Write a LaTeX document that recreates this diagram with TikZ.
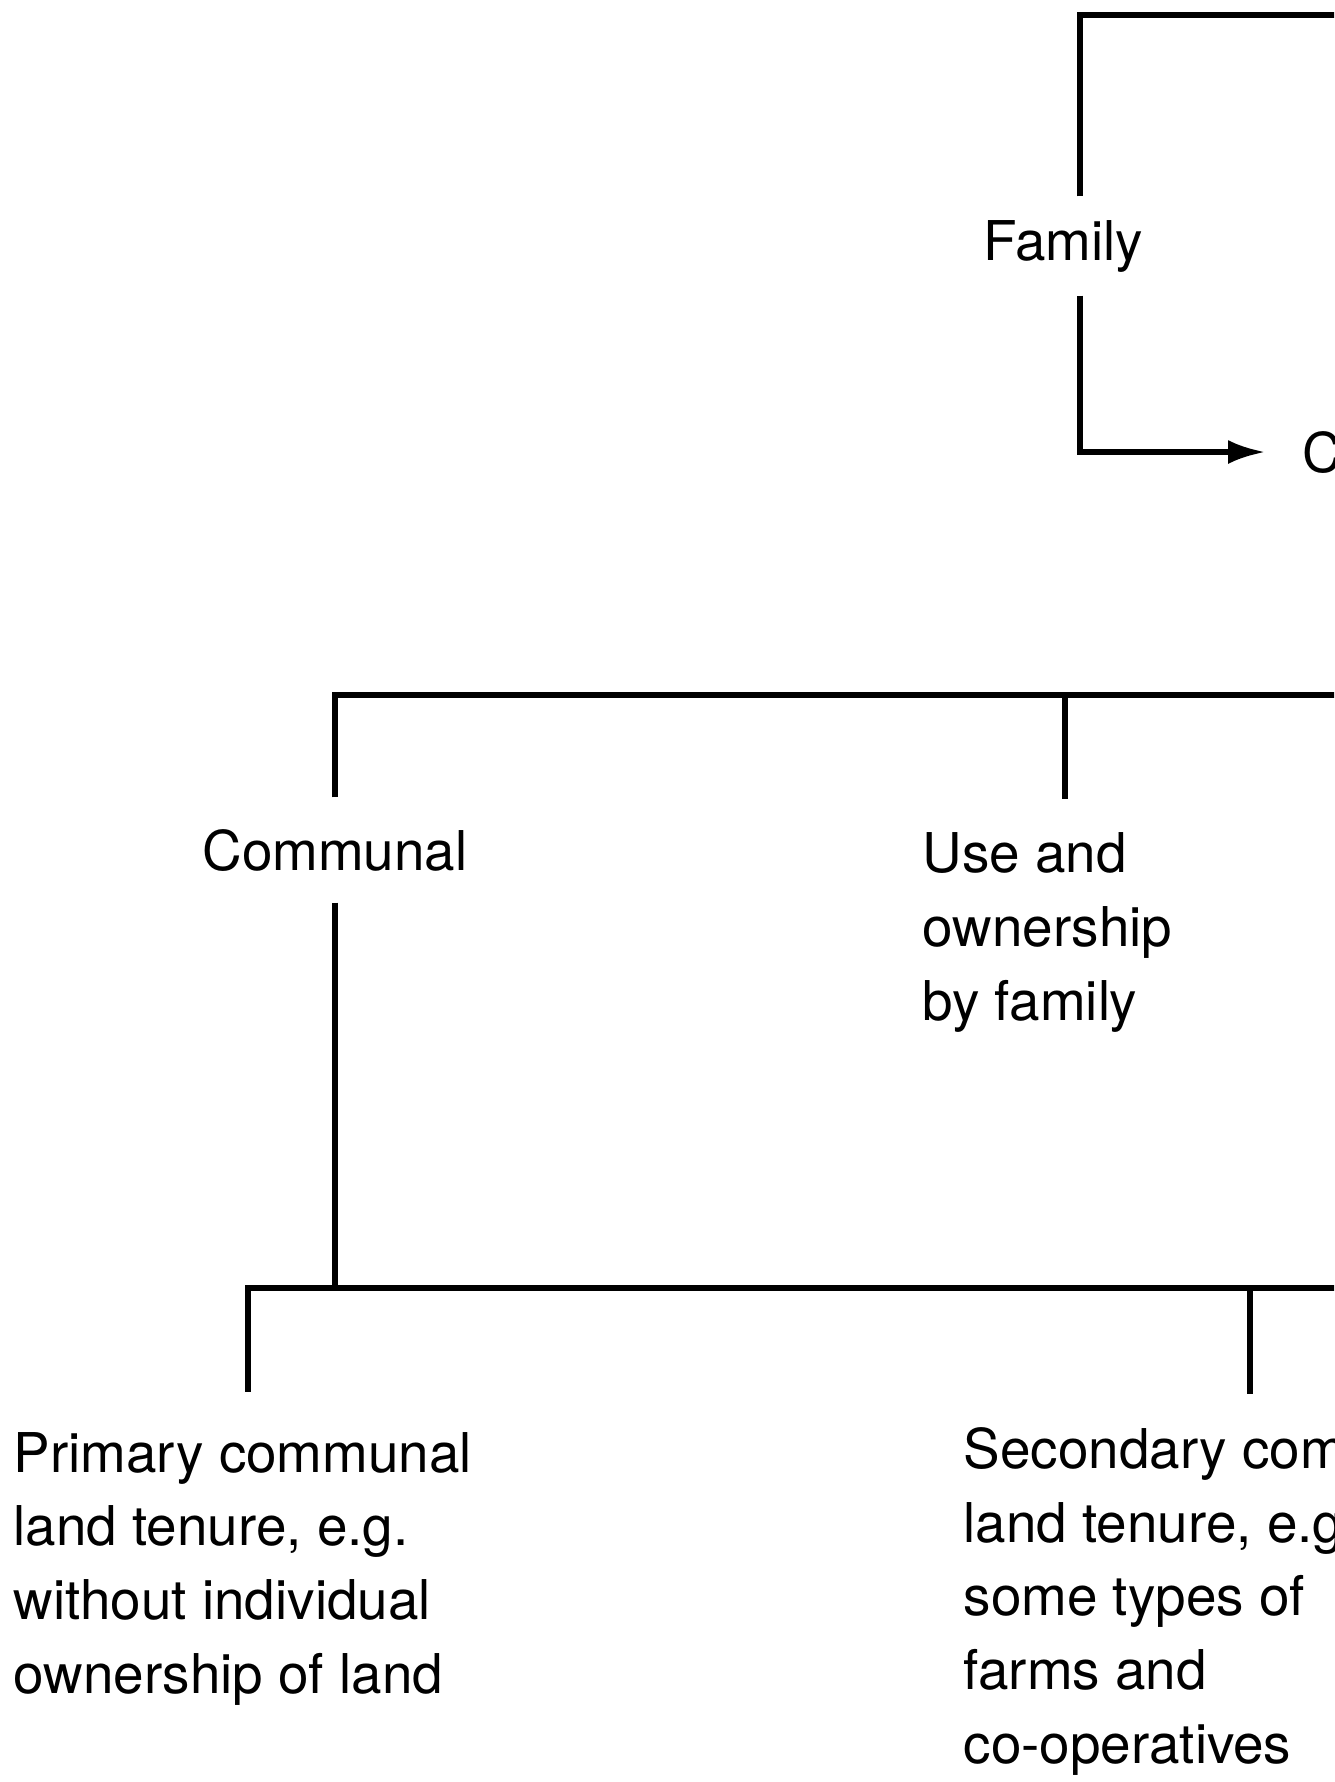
\documentclass[tikz,border=0pt]{standalone}
\usepackage{fontspec}
\setmainfont{TeX Gyre Heros}
\usetikzlibrary{arrows.meta}

\begin{document}
\begin{tikzpicture}[x=0.1mm,y=-0.1mm,line width=1.5pt,
    txt/.style={inner sep=0pt,align=left,font=\fontsize{15.6}{20.95}\selectfont},
    tip/.style={-{Latex[length=3.7mm,width=2.4mm]}}]
    \useasboundingbox (0,0) rectangle (1334,1782);
    \clip (0,0) rectangle (1334,1782);

    % ~~~~ Family ~~~~ %
    \coordinate (top) at (1080,15);
    \coordinate (topR) at (1360,15);
    \node[txt,anchor=base west,inner ysep=2.1mm] (fam) at (981,260) {Family};
    \node[txt,anchor=base west,inner xsep=3.5mm] (co) at (1265,472) {C};
    \draw (fam.north -| top) -- (top) -- (topR);
    \draw[tip] (fam.south -| top) |- (co.west);

    % ~~~~ Middle level ~~~~ %
    \coordinate (midL) at (335,695);
    \coordinate (midR) at (1360,695);
    \coordinate (useT) at (1065,695);
    \node[txt,anchor=base,inner ysep=2.9mm] (comm) at (335,870) {Communal};
    \node[txt,anchor=base west,inner ysep=3.1mm] (use) at (920,1020)
        {Use and\\ownership\\by family};
    \draw (comm.north) -- (midL) -- (midR);
    \draw (useT) -- (useT |- use.north);

    % ~~~~ Bottom level ~~~~ %
    \coordinate (botL) at (248,1288);
    \coordinate (botR) at (1360,1288);
    \coordinate (secT) at (1250,1288);
    \node[txt,anchor=base west,inner ysep=3.8mm] (prim) at (11,1693)
        {Primary communal\\land tenure, e.g.\\without individual\\ownership of land};
    \node[txt,anchor=base west,inner ysep=3.1mm] (sec) at (961,1763)
        {Secondary communal\\land tenure, e.g.\\some types of\\farms and\\co-operatives};
    \draw (comm.south) -- (comm.south |- botL);
    \draw (prim.north -| botL) -- (botL) -- (botR);
    \draw (secT) -- (secT |- sec.north);
\end{tikzpicture}
\end{document}
